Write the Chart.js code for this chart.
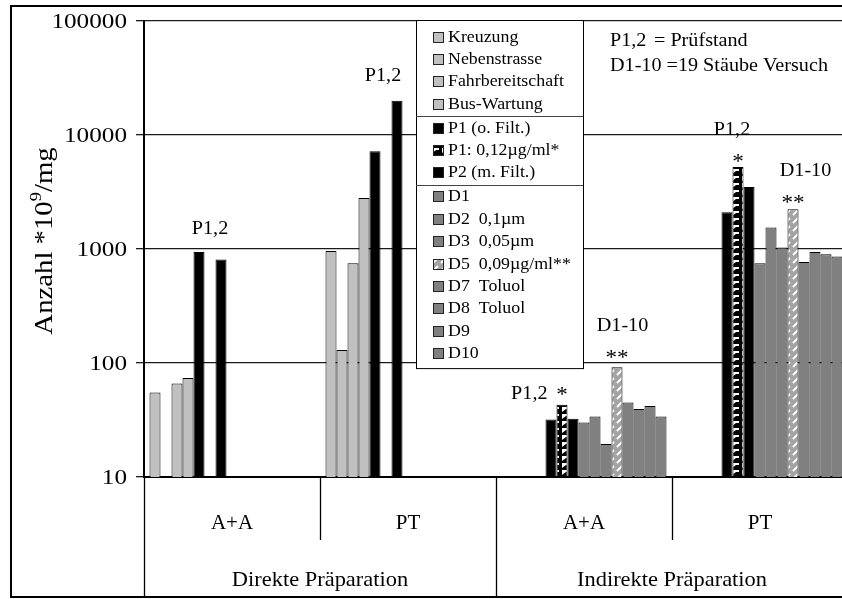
<!DOCTYPE html>
<html>
<head>
<meta charset="utf-8">
<script src="https://cdn.jsdelivr.net/npm/chart.js@4/dist/chart.umd.min.js"></script>
<style>
  html, body { margin: 0; padding: 0; background: #fff; overflow: hidden; }
  canvas { display: block; }
</style>
</head>
<body>
<canvas id="c" width="860" height="599" style="width:860px;height:599px"></canvas>
<script>
// categories and tick labels
const categories = ['A+A', 'PT', 'A+A', 'PT'];
const groupLabels = ['Direkte Präparation', 'Indirekte Präparation'];
const yTicks = [10, 100, 1000, 10000, 100000];

// series values, one entry per category (null = no bar)
const kreuzung        = [55, 960, null, null];
const nebenstrasse    = [null, 130, null, null];
const fahrbereitschaft = [66, 750, null, null];
const busWartung      = [74, 2800, null, null];
const p1              = [940, 7200, 32, 2100];
const p1Konz          = [null, null, 43, 5250];
const p2              = [810, 20000, 32.5, 3500];
const d1              = [null, null, 30, 750];
const d2              = [null, null, 34, 1540];
const d3              = [null, null, 19.5, 1030];
const d5              = [null, null, 92, 2230];
const d7              = [null, null, 45, 770];
const d8              = [null, null, 39.5, 940];
const d9              = [null, null, 42, 900];
const d10             = [null, null, 34, 860];

const seriesNames = ['Kreuzung', 'Nebenstrasse', 'Fahrbereitschaft', 'Bus-Wartung',
  'P1 (o. Filt.)', 'P1: 0,12µg/ml*', 'P2 (m. Filt.)',
  'D1', 'D2  0,1µm', 'D3  0,05µm', 'D5  0,09µg/ml**', 'D7  Toluol', 'D8  Toluol', 'D9', 'D10'];
const seriesValues = [kreuzung, nebenstrasse, fahrbereitschaft, busWartung,
  p1, p1Konz, p2, d1, d2, d3, d5, d7, d8, d9, d10];

const FONT = '"Liberation Serif", "Times New Roman", serif';
const canvas = document.getElementById('c');
const ctx0 = canvas.getContext('2d');

function makePattern(w, h, draw){
  const c = document.createElement('canvas');
  c.width = w; c.height = h;
  draw(c.getContext('2d'));
  return ctx0.createPattern(c, 'repeat');
}

// black / white zigzag for P1 0,12µg/ml
const patP1 = makePattern(10, 7, function(g){
  g.fillStyle = '#000'; g.fillRect(0, 0, 10, 7);
  g.fillStyle = '#fff';
  g.fillRect(2, 1, 7, 2);
  g.beginPath(); g.moveTo(2, 3); g.lineTo(6, 3); g.lineTo(2, 6); g.closePath(); g.fill();
});
// grey / white slanted strokes for D5
const patD5 = makePattern(8, 8, function(g){
  g.fillStyle = '#a4a4a4'; g.fillRect(0, 0, 8, 8);
  g.strokeStyle = '#fff'; g.lineWidth = 1.8;
  g.beginPath(); g.moveTo(1, 7); g.lineTo(6, 2); g.stroke();
});

function fillFor(i){
  if (i <= 3) return '#c0c0c0';
  if (i === 5) return patP1;
  if (i === 4 || i === 6) return '#000';
  if (i === 10) return patD5;
  return '#808080';
}

const datasets = seriesNames.map(function(name, i){
  return {
    label: name,
    data: seriesValues[i],
    backgroundColor: fillFor(i),
    borderColor: '#000',
    borderWidth: 1,
    borderSkipped: 'start'
  };
});

// stretched serif text helper
function txt(ctx, s, x, y, size, sx, align){
  ctx.save();
  ctx.font = size + 'px ' + FONT;
  ctx.textBaseline = 'middle';
  ctx.textAlign = align || 'center';
  ctx.fillStyle = '#000';
  ctx.translate(x, y);
  ctx.scale(sx, 1);
  ctx.fillText(s, 0, 0);
  ctx.restore();
}

function bar(chart, ds, idx){
  return chart.getDatasetMeta(ds).data[idx];
}

const decor = {
  id: 'decor',
  afterDraw: function(chart){
    const ctx = chart.ctx;
    const xs = chart.scales.x, ys = chart.scales.y;
    const area = chart.chartArea;

    // outer frame
    ctx.save();
    ctx.strokeStyle = '#000'; ctx.lineWidth = 2;
    ctx.strokeRect(11, 6, chart.width, 591);
    ctx.restore();

    // y tick labels
    yTicks.forEach(function(v){
      txt(ctx, String(v), 127, ys.getPixelForValue(v) + 1.5, 21, 1.2, 'right');
    });

    // y title with superscript
    ctx.save();
    ctx.translate(52, 241);
    ctx.rotate(-Math.PI / 2);
    ctx.scale(1.15, 1);
    ctx.fillStyle = '#000';
    ctx.textBaseline = 'alphabetic';
    ctx.textAlign = 'left';
    ctx.font = '25px ' + FONT;
    const a = 'Anzahl *10', b = '/mg';
    const w1 = ctx.measureText(a).width, w3 = ctx.measureText(b).width;
    ctx.font = '16px ' + FONT;
    const w2 = ctx.measureText('9').width;
    let sx = -(w1 + w2 + w3) / 2;
    ctx.font = '25px ' + FONT;
    ctx.fillText(a, sx, 0);
    ctx.font = '16px ' + FONT;
    ctx.fillText('9', sx + w1, -11);
    ctx.font = '25px ' + FONT;
    ctx.fillText(b, sx + w1 + w2, 0);
    ctx.restore();

    // category separators below axis
    const cw = (xs.right - xs.left) / categories.length;
    ctx.save();
    ctx.strokeStyle = '#000'; ctx.lineWidth = 1.3;
    for (let k = 0; k <= categories.length; k++) {
      const x = Math.round(xs.left + k * cw) + 0.5;
      const long = (k % 2 === 0);
      ctx.beginPath();
      ctx.moveTo(x, area.bottom);
      ctx.lineTo(x, long ? 597 : 540);
      ctx.stroke();
    }
    ctx.restore();
    categories.forEach(function(c, i){
      txt(ctx, c, xs.getPixelForValue(i), 523, 21, 1.0);
    });
    groupLabels.forEach(function(g, i){
      txt(ctx, g, xs.left + (2 * i + 1) * cw, 580, 22, 1.02);
    });

    // annotations above bars
    let b4 = bar(chart, 4, 0), b6 = bar(chart, 6, 0);
    txt(ctx, 'P1,2', (b4.x + b6.x) / 2, Math.min(b4.y, b6.y) - 23, 18, 1.12);
    b4 = bar(chart, 4, 1); b6 = bar(chart, 6, 1);
    txt(ctx, 'P1,2', (b4.x + b6.x) / 2 - 3, Math.min(b4.y, b6.y) - 24, 18, 1.12);

    [2, 3].forEach(function(ci){
      const bp1 = bar(chart, 4, ci), bs = bar(chart, 5, ci), bd5 = bar(chart, 10, ci);
      const dc = (bar(chart, 7, ci).x + bar(chart, 14, ci).x) / 2;
      if (ci === 2) {
        txt(ctx, 'P1,2', bp1.x - bp1.width / 2 + 2, bs.y - 11, 18, 1.12, 'right');
        txt(ctx, '*', bs.x, bs.y - 13 + 4, 21, 1.1);
        txt(ctx, '**', bd5.x, bd5.y - 12.7 + 4, 21, 1.1);
        txt(ctx, 'D1-10', dc, bd5.y - 41, 18, 1.12);
      } else {
        txt(ctx, 'P1,2', bs.x - 6, bs.y - 37, 18, 1.12);
        txt(ctx, '*', bs.x, bs.y - 8 + 4, 21, 1.1);
        txt(ctx, '**', bd5.x, bd5.y - 10 + 4, 21, 1.1);
        txt(ctx, 'D1-10', dc + 7, bd5.y - 38, 18, 1.12);
      }
    });

    // note top right
    txt(ctx, 'P1,2', 610, 41, 18, 1.12, 'left');
    txt(ctx, '= Prüfstand', 654, 41, 18, 1.12, 'left');
    txt(ctx, 'D1-10 =19 Stäube Versuch', 610, 66, 18, 1.12, 'left');

    // legend box
    const sections = [[0, 1, 2, 3], [4, 5, 6], [7, 8, 9, 10, 11, 12, 13, 14]];
    const lx = 416, lw = 167, top = 20, pitch = 22.4;
    const rows = [], seps = [];
    let y = top + 16.5;
    sections.forEach(function(sec, si){
      sec.forEach(function(i){ rows.push([i, y]); y += pitch; });
      if (si < sections.length - 1) {
        const s = y - pitch + 12.3;
        seps.push(s);
        y = s + 11.6;
      }
    });
    const lh = (y - pitch + 15) - top;
    ctx.save();
    ctx.fillStyle = '#fff';
    ctx.fillRect(lx, top, lw, lh);
    ctx.strokeStyle = '#000'; ctx.lineWidth = 1;
    ctx.strokeRect(lx + 0.5, top + 0.5, lw, lh);
    ctx.strokeStyle = '#444';
    seps.forEach(function(s){
      ctx.beginPath(); ctx.moveTo(lx, Math.round(s) + 0.5); ctx.lineTo(lx + lw, Math.round(s) + 0.5); ctx.stroke();
    });
    rows.forEach(function(r){
      const ds = chart.data.datasets[r[0]];
      const sy = Math.round(r[1] - 5) + 0.5;
      ctx.fillStyle = ds.backgroundColor;
      ctx.fillRect(433.5, sy, 10, 10);
      ctx.strokeStyle = '#222';
      ctx.strokeRect(433.5, sy, 10, 10);
      txt(ctx, ds.label, 448, r[1] + 0.5, 17.5, 1.02, 'left');
    });
    ctx.restore();
  }
};

new Chart(canvas, {
  type: 'bar',
  data: { labels: categories, datasets: datasets },
  options: {
    responsive: false,
    animation: false,
    devicePixelRatio: 1,
    layout: { padding: { left: 0, right: 12, top: 21, bottom: 0 } },
    datasets: { bar: { categoryPercentage: 0.9375, barPercentage: 1 } },
    plugins: { legend: { display: false }, tooltip: { enabled: false } },
    scales: {
      x: {
        type: 'category',
        grid: { display: false },
        border: { display: true, color: '#000', width: 2 },
        ticks: { display: false },
        afterFit: function(s){ s.height = 122; }
      },
      y: {
        type: 'logarithmic',
        min: 10,
        max: 100000,
        afterBuildTicks: function(s){
          s.ticks = yTicks.map(function(v){ return { value: v, major: true }; });
        },
        ticks: { display: false },
        grid: { color: '#1a1a1a', lineWidth: 1.3, tickLength: 8, drawTicks: true },
        border: { color: '#000', width: 2 },
        afterFit: function(s){ s.width = 144; }
      }
    }
  },
  plugins: [decor]
});
</script>
</body>
</html>
